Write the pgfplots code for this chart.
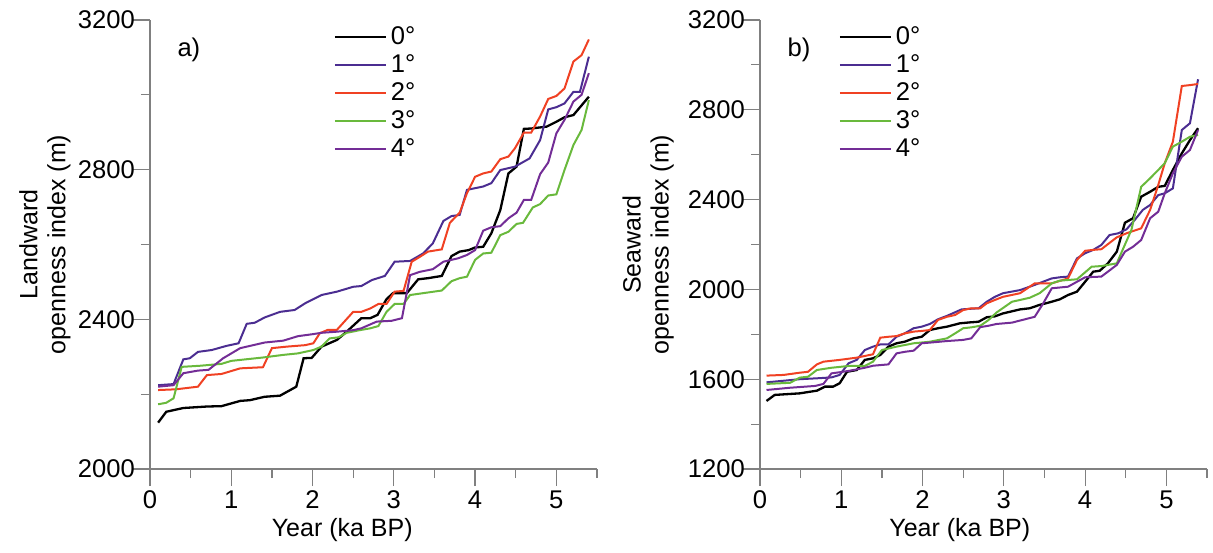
\documentclass[border=0pt]{standalone}
\usepackage{pgfplots}
\pgfplotsset{compat=1.18}
\usepackage{fontspec}
\setmainfont{Liberation Sans}
\definecolor{cA}{RGB}{0,0,0}
\definecolor{cB}{RGB}{75,45,145}
\definecolor{cC}{RGB}{240,65,35}
\definecolor{cD}{RGB}{105,185,60}
\definecolor{cE}{RGB}{115,45,150}
\definecolor{axgray}{RGB}{128,128,128}
\pgfplotsset{
  myaxis/.style={
    scale only axis, width=223.5pt, height=224.5pt,
    axis x line*=bottom, axis y line*=left,
    axis line style={axgray, line width=0.6pt},
    every tick/.style={axgray, line width=0.6pt},
    tick align=outside,
    major tick length=8.5pt, minor tick length=4.5pt,
    xmin=0, xmax=5.5,
    xtick={0,1,2,3,4,5},
    minor xtick={0.5,1.5,2.5,3.5,4.5,5.5},
    /pgf/number format/assume math mode=true,
    /pgf/number format/1000 sep={},
    tick label style={font=\fontsize{12.8}{14}\selectfont, text=black},
    yticklabel style={xshift=4.5pt},
    xticklabel style={yshift=1pt},
    label style={font=\fontsize{12.5}{14}\selectfont},
    xlabel={Year (ka BP)},
    ylabel style={align=center, anchor=center},
    legend style={draw=none, fill=none, font=\fontsize{12.8}{14}\selectfont,
      anchor=north west, row sep=-0.5pt, inner sep=0pt},
    legend cell align=left,
    legend image code/.code={\draw[#1] (0pt,0pt) -- (25.5pt,0pt);},
    every axis plot/.append style={line width=1pt},
  }
}
\begin{document}
\begin{tikzpicture}
\path[use as bounding box] (-75pt,-41.5pt) rectangle (531.5pt,234.5pt);
% ---------------- panel a
\begin{axis}[myaxis, at={(0pt,0pt)}, anchor=south west,
  ymin=2000, ymax=3200, ytick={2000,2400,2800,3200}, minor ytick={2200,2600,3000},
  ylabel={Landward\\openness index (m)},
  ylabel style={at={(axis description cs:-0.235,0.5)}},
  xlabel style={at={(axis description cs:0.43,0)}, anchor=center, yshift=-30.5pt},
  legend style={at={(axis description cs:0.41,0.995)}},
]
\node[font=\fontsize{12.8}{14}\selectfont, anchor=center] at (axis description cs:0.087,0.933) {a)};
\addplot[cA, line width=1.15pt] coordinates {(0.10,2124)(0.20,2153)(0.41,2163)(0.70,2167)(0.88,2168)(1.11,2182)(1.23,2184)(1.41,2193)(1.60,2196)(1.80,2220)(1.89,2296)(1.99,2297)(2.11,2327)(2.30,2345)(2.42,2367)(2.60,2403)(2.71,2403)(2.80,2412)(2.91,2454)(2.99,2470)(3.16,2470)(3.30,2507)(3.42,2510)(3.59,2516)(3.71,2569)(3.81,2581)(3.92,2585)(4.00,2592)(4.10,2594)(4.20,2630)(4.31,2692)(4.41,2790)(4.51,2808)(4.60,2909)(4.69,2910)(4.88,2915)(5.00,2928)(5.10,2940)(5.21,2946)(5.40,2995)};
\addlegendentry{0°}
\addplot[cB] coordinates {(0.10,2224)(0.29,2227)(0.41,2293)(0.49,2296)(0.59,2313)(0.76,2318)(0.94,2329)(1.09,2336)(1.19,2388)(1.29,2391)(1.41,2405)(1.60,2420)(1.78,2425)(1.91,2443)(2.11,2465)(2.30,2474)(2.50,2487)(2.60,2489)(2.73,2505)(2.89,2516)(3.01,2554)(3.20,2556)(3.36,2576)(3.48,2603)(3.61,2663)(3.71,2676)(3.81,2679)(3.90,2746)(4.10,2755)(4.20,2764)(4.31,2799)(4.49,2808)(4.67,2830)(4.80,2879)(4.90,2961)(5.00,2967)(5.10,2977)(5.21,3008)(5.29,3008)(5.40,3102)};
\addlegendentry{1°}
\addplot[cC] coordinates {(0.10,2211)(0.32,2213)(0.59,2220)(0.70,2251)(0.88,2254)(1.11,2269)(1.39,2272)(1.50,2323)(1.68,2327)(1.91,2331)(2.01,2336)(2.09,2363)(2.19,2372)(2.30,2372)(2.50,2420)(2.60,2420)(2.71,2429)(2.81,2441)(2.91,2441)(3.01,2474)(3.12,2476)(3.22,2554)(3.32,2567)(3.42,2581)(3.59,2587)(3.69,2658)(3.81,2685)(3.90,2737)(4.00,2781)(4.10,2790)(4.20,2795)(4.31,2828)(4.41,2835)(4.49,2857)(4.60,2899)(4.69,2899)(4.80,2942)(4.90,2989)(5.00,2997)(5.10,3017)(5.21,3089)(5.31,3106)(5.40,3148)};
\addlegendentry{2°}
\addplot[cD] coordinates {(0.10,2173)(0.20,2177)(0.29,2189)(0.39,2273)(0.62,2276)(0.88,2281)(1.00,2289)(1.39,2298)(1.64,2305)(1.82,2309)(2.01,2318)(2.11,2327)(2.21,2349)(2.32,2352)(2.42,2364)(2.58,2371)(2.71,2376)(2.81,2382)(2.91,2420)(3.01,2441)(3.12,2441)(3.20,2465)(3.59,2477)(3.71,2502)(3.81,2510)(3.90,2514)(4.00,2559)(4.10,2576)(4.20,2578)(4.31,2625)(4.41,2634)(4.51,2655)(4.59,2658)(4.71,2699)(4.80,2708)(4.90,2731)(5.00,2734)(5.10,2799)(5.21,2866)(5.31,2906)(5.40,2986)};
\addlegendentry{3°}
\addplot[cE] coordinates {(0.10,2220)(0.29,2224)(0.41,2256)(0.59,2263)(0.72,2265)(0.90,2296)(1.11,2323)(1.27,2331)(1.41,2338)(1.64,2343)(1.82,2355)(1.99,2360)(2.11,2364)(2.30,2367)(2.50,2371)(2.60,2376)(2.79,2394)(2.97,2396)(3.10,2403)(3.20,2518)(3.32,2527)(3.48,2534)(3.61,2554)(3.79,2563)(3.90,2572)(4.00,2585)(4.10,2637)(4.20,2646)(4.31,2649)(4.41,2670)(4.51,2685)(4.60,2719)(4.69,2719)(4.80,2788)(4.90,2819)(5.00,2897)(5.10,2933)(5.21,2982)(5.31,3000)(5.40,3058)};
\addlegendentry{4°}
\end{axis}
% ---------------- panel b
\begin{axis}[myaxis, at={(305pt,0pt)}, anchor=south west,
  ymin=1200, ymax=3200, ytick={1200,1600,2000,2400,2800,3200}, minor ytick={1400,1800,2200,2600,3000},
  ylabel={Seaward\\openness index (m)},
  ylabel style={at={(axis description cs:-0.25,0.5)}},
  xlabel style={at={(axis description cs:0.447,0)}, anchor=center, yshift=-30.5pt},
  legend style={at={(axis description cs:0.175,0.995)}},
]
\node[font=\fontsize{12.8}{14}\selectfont, anchor=center] at (axis description cs:0.087,0.933) {b)};
\addplot[cA, line width=1.15pt] coordinates {(0.08,1503)(0.18,1530)(0.49,1537)(0.70,1549)(0.80,1567)(0.90,1567)(0.98,1582)(1.07,1633)(1.19,1641)(1.29,1686)(1.39,1693)(1.48,1708)(1.58,1745)(1.68,1760)(1.78,1767)(1.89,1782)(1.99,1789)(2.09,1819)(2.19,1827)(2.30,1834)(2.46,1849)(2.58,1853)(2.69,1856)(2.79,1876)(2.89,1880)(2.99,1893)(3.20,1911)(3.32,1916)(3.44,1931)(3.57,1943)(3.69,1956)(3.79,1975)(3.90,1990)(4.00,2034)(4.10,2079)(4.18,2083)(4.28,2116)(4.39,2168)(4.49,2297)(4.59,2317)(4.69,2413)(4.80,2435)(4.90,2457)(4.98,2461)(5.08,2532)(5.19,2606)(5.29,2665)(5.39,2718)};
\addlegendentry{0°}
\addplot[cB] coordinates {(0.08,1586)(0.49,1600)(0.70,1604)(0.88,1608)(0.98,1619)(1.09,1671)(1.19,1686)(1.29,1730)(1.39,1745)(1.48,1755)(1.58,1755)(1.68,1789)(1.78,1804)(1.89,1827)(1.99,1834)(2.09,1846)(2.19,1867)(2.30,1882)(2.48,1911)(2.69,1916)(2.79,1945)(2.89,1967)(2.99,1983)(3.20,1997)(3.38,2020)(3.59,2049)(3.69,2054)(3.79,2057)(3.90,2138)(4.00,2161)(4.10,2176)(4.20,2198)(4.30,2242)(4.41,2250)(4.51,2268)(4.61,2309)(4.71,2354)(4.80,2376)(4.90,2420)(4.98,2428)(5.08,2450)(5.19,2710)(5.29,2740)(5.39,2936)};
\addlegendentry{1°}
\addplot[cC] coordinates {(0.08,1616)(0.29,1619)(0.49,1629)(0.59,1633)(0.70,1666)(0.78,1678)(0.98,1686)(1.19,1696)(1.39,1711)(1.48,1785)(1.58,1789)(1.68,1792)(1.78,1804)(1.89,1812)(1.99,1815)(2.09,1819)(2.19,1864)(2.30,1878)(2.40,1886)(2.50,1908)(2.60,1916)(2.71,1916)(2.79,1938)(2.89,1953)(2.99,1967)(3.20,1983)(3.38,2027)(3.59,2027)(3.79,2049)(3.90,2131)(4.00,2172)(4.10,2176)(4.20,2179)(4.39,2232)(4.51,2250)(4.69,2272)(4.80,2354)(4.90,2465)(4.98,2562)(5.08,2658)(5.19,2906)(5.29,2910)(5.39,2915)};
\addlegendentry{2°}
\addplot[cD] coordinates {(0.08,1579)(0.37,1584)(0.49,1607)(0.59,1611)(0.70,1641)(0.88,1651)(1.09,1659)(1.29,1659)(1.39,1678)(1.50,1730)(1.68,1745)(1.89,1760)(2.09,1767)(2.30,1782)(2.40,1804)(2.50,1827)(2.60,1831)(2.71,1838)(2.81,1863)(2.91,1897)(3.10,1945)(3.20,1953)(3.32,1963)(3.44,1983)(3.59,2027)(3.69,2039)(3.90,2045)(4.08,2101)(4.20,2104)(4.39,2116)(4.47,2183)(4.57,2265)(4.69,2457)(4.80,2495)(4.90,2532)(4.98,2562)(5.08,2636)(5.19,2658)(5.29,2680)(5.39,2688)};
\addlegendentry{3°}
\addplot[cE] coordinates {(0.08,1552)(0.37,1562)(0.68,1570)(0.78,1579)(0.88,1626)(0.98,1631)(1.11,1638)(1.29,1651)(1.39,1660)(1.58,1666)(1.68,1715)(1.78,1722)(1.89,1727)(1.99,1760)(2.09,1763)(2.30,1770)(2.50,1775)(2.60,1782)(2.71,1832)(2.81,1838)(2.91,1846)(3.10,1852)(3.38,1878)(3.48,1935)(3.59,2005)(3.79,2012)(3.90,2034)(4.00,2054)(4.20,2057)(4.39,2109)(4.49,2168)(4.59,2190)(4.69,2220)(4.80,2317)(4.90,2346)(4.98,2428)(5.08,2517)(5.19,2591)(5.29,2621)(5.39,2710)};
\addlegendentry{4°}
\end{axis}
\end{tikzpicture}
\end{document}
